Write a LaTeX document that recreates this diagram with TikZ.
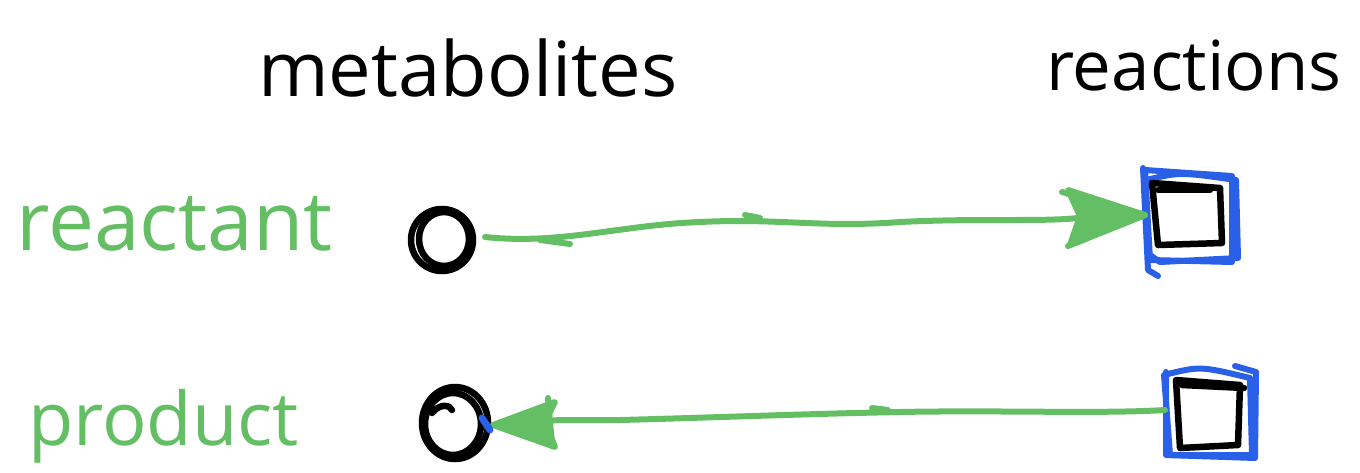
\documentclass[tikz,border=0pt]{standalone}
\usepackage{fontspec}
\setmainfont{Open Sans}
\usetikzlibrary{arrows.meta}
\definecolor{sgreen}{RGB}{100,190,100}
\definecolor{sblue}{RGB}{42,95,232}
\tikzset{
  lbl/.style={inner sep=0pt, anchor=base west},
  gline/.style={draw=sgreen, line width=6pt, line cap=round, line join=round},
  kline/.style={draw=black, line width=6.5pt, line cap=round, line join=round},
  bline/.style={draw=sblue, line width=6pt, line cap=round, line join=round},
  ghead/.style={draw=sgreen, fill=sgreen, line width=6pt, line join=round},
}
\begin{document}
\begin{tikzpicture}[x=1pt,y=-1pt]
\useasboundingbox (0,0) rectangle (1360,472);
% headers
\node[lbl, font=\fontsize{76}{80}\selectfont] (hm) at (258,96) {metabolites};
\node[lbl, font=\fontsize{69}{80}\selectfont] (hr) at (1046,90) {reactions};
% row labels
\node[lbl, font=\fontsize{82}{90}\selectfont, text=sgreen] (lr) at (16,250) {reactant};
\node[lbl, font=\fontsize{74}{90}\selectfont, text=sgreen] (lp) at (28,445) {product};
% metabolite circles
\node[circle, minimum size=64pt, inner sep=0pt] (m1) at (442,240) {};
\draw[kline] (m1) circle[radius=31pt];
\draw[kline] ([shift={(2,-1)}]m1.center) circle[x radius=25pt, y radius=27pt];
\node[circle, minimum size=70pt, inner sep=0pt] (m2) at (455,423) {};
\draw[kline] (m2.center) ellipse[x radius=33pt, y radius=36pt];
\draw[kline] ([shift={(-2,1)}]m2.center) ellipse[x radius=28pt, y radius=31pt];
\draw[kline] (432,413) .. controls (440,403) and (450,405) .. (452,410);
% reaction squares
\node[minimum width=70pt, minimum height=65pt, inner sep=0pt] (r1) at (1188,213) {};
\draw[bline] (1143,168) -- (1148,270) -- (1158,276);
\draw[bline] (1146,180) .. controls (1180,172) .. (1236,180) -- (1238,258) -- (1160,262) -- (1150,255);
\draw[bline] (1145,170) -- (1232,176) -- (1232,262) -- (1150,260) -- cycle;
\draw[kline] (1152,183) -- (1220,188) -- (1222,243) -- (1158,245) -- (1152,183);
\draw[kline] (1158,190) -- (1210,190);
\node[minimum width=70pt, minimum height=72pt, inner sep=0pt] (r2) at (1208,414) {};
\draw[bline] (1166,372) -- (1166,455) -- (1255,458) -- (1256,372) -- (1235,366);
\draw[bline] (1164,375) .. controls (1200,366) .. (1250,378) -- (1252,455) -- (1170,455) -- cycle;
\draw[kline] (1176,380) -- (1240,385) -- (1238,445) -- (1180,448) -- cycle;
\draw[kline] (1182,385) -- (1244,388);
% arrows
\coordinate (t1) at (1145,215);
\coordinate (s1) at (485,237);
\draw[gline] (s1) .. controls (560,245) and (620,225) .. (700,222)
  .. controls (780,218) and (820,228) .. (900,222)
  .. controls (980,218) and (1040,222) .. (1078,218) -- (t1);
\draw[gline] (540,240) -- (570,244);
\draw[gline] (745,215) -- (760,218);
\draw[ghead] (t1) -- (1068,190) -- (1080,216) -- (1070,245) -- cycle;
\draw[gline] (t1) -- (1062,192);
\draw[gline] (t1) -- (1068,246);
\coordinate (t2) at (493,425);
\coordinate (s2) at (1165,410);
\draw[gline] (s2) .. controls (1100,414) and (1000,410) .. (900,412)
  .. controls (800,414) and (700,418) .. (620,420) -- (560,420) -- (t2);
\draw[gline] (872,408) -- (888,410);
\draw[ghead] (t2) -- (555,402) -- (545,422) -- (555,447) -- cycle;
\draw[gline] (548,398) -- (552,445);
\draw[draw=sblue, line width=7pt, line cap=round] (482,418) -- (490,430);
\end{tikzpicture}
\end{document}
